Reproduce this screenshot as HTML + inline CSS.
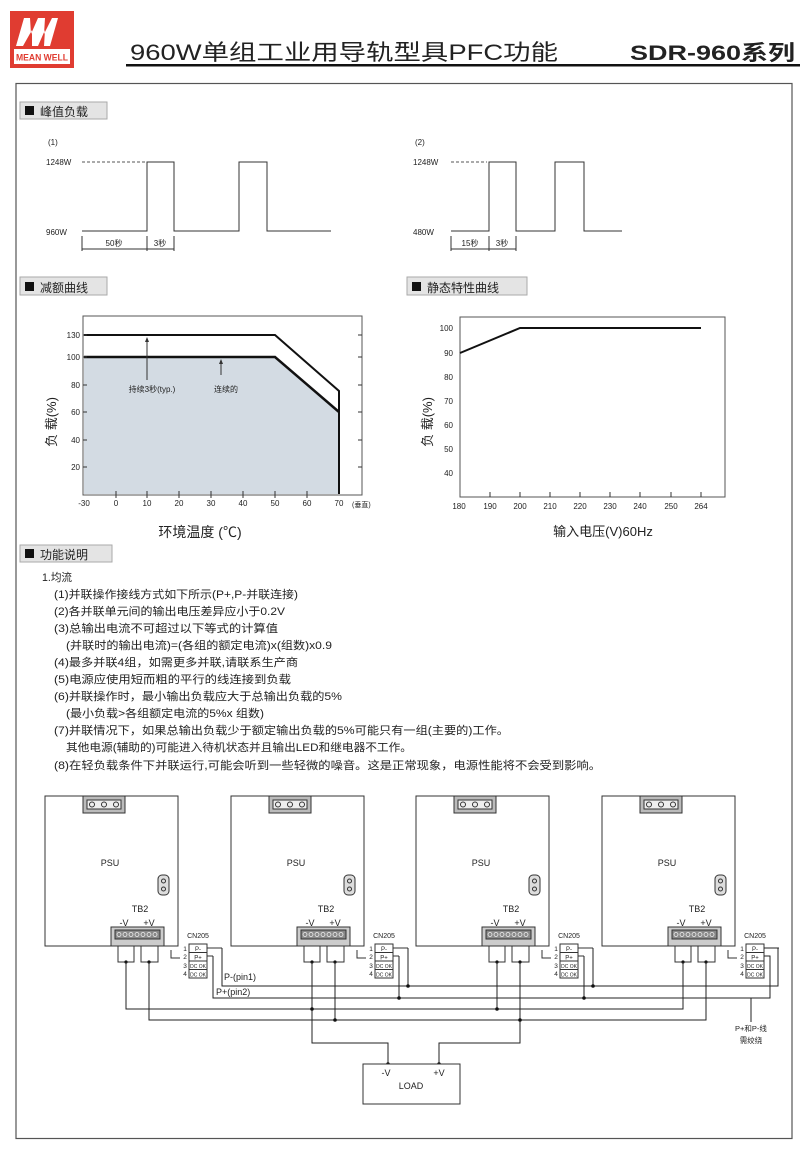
<!DOCTYPE html>
<html><head><meta charset="utf-8"><style>
html,body{margin:0;padding:0;background:#fff;}
svg{display:block;}
text{font-family:"Liberation Sans","Noto Sans CJK SC",sans-serif;fill:#222;}
</style></head><body>
<svg width="800" height="1156" viewBox="0 0 800 1156" xmlns="http://www.w3.org/2000/svg">
<!-- header -->
<rect x="10" y="11" width="64" height="57" fill="#e03c31"/>
<path d="M16,46 L24,18 L30,18 L31,34 L38,18 L45,18 L44,34 L52,18 L58,18 L50,46 L44,46 L45,30 L38,46 L32,46 L32,30 L23,46 Z" fill="#fff"/>
<rect x="14" y="49" width="56" height="15" fill="#fff"/>
<text x="42" y="60.5" font-size="9.5" font-weight="bold" text-anchor="middle" textLength="52" lengthAdjust="spacingAndGlyphs" style="fill:#e03c31">MEAN WELL</text>
<text x="130" y="60" font-size="22" textLength="428" lengthAdjust="spacingAndGlyphs">960W单组工业用导轨型具PFC功能</text>
<text x="630" y="60" font-size="21" font-weight="bold" textLength="165" lengthAdjust="spacingAndGlyphs">SDR-960系列</text>
<rect x="126" y="64" width="674" height="2.5" fill="#111"/>
<!-- frame -->
<rect x="16" y="83.5" width="776" height="1055" fill="none" stroke="#555" stroke-width="1.2"/>

<!-- section headers -->
<g font-size="12">
<rect x="20" y="102" width="87" height="17" fill="#e4e4e4" stroke="#aaa"/><rect x="25" y="106" width="9" height="9" fill="#111"/><text x="40" y="116" font-size="12">峰值负载</text>
<rect x="20" y="277" width="87" height="18" fill="#e4e4e4" stroke="#aaa"/><rect x="25" y="282" width="9" height="9" fill="#111"/><text x="40" y="292">减额曲线</text>
<rect x="407" y="277" width="120" height="18" fill="#e4e4e4" stroke="#aaa"/><rect x="412" y="282" width="9" height="9" fill="#111"/><text x="427" y="292">静态特性曲线</text>
<rect x="20" y="545" width="92" height="17" fill="#e4e4e4" stroke="#aaa"/><rect x="25" y="549" width="9" height="9" fill="#111"/><text x="40" y="559">功能说明</text>
</g>

<!-- peak load charts -->
<g font-size="8" stroke-width="1">
<text x="48" y="145">(1)</text>
<text x="46" y="165">1248W</text>
<text x="46" y="235">960W</text>
<line x1="82" y1="162" x2="145" y2="162" stroke="#555" stroke-dasharray="3,2"/>
<polyline points="82,231 147,231 147,162 174,162 174,231 239,231 239,162 267,162 267,231 331,231" fill="none" stroke="#333"/>
<line x1="82" y1="236" x2="82" y2="251" stroke="#333"/><line x1="147" y1="236" x2="147" y2="251" stroke="#333"/><line x1="174" y1="236" x2="174" y2="251" stroke="#333"/>
<line x1="82" y1="249" x2="174" y2="249" stroke="#333"/>
<text x="114" y="246" text-anchor="middle">50秒</text><text x="160" y="246" text-anchor="middle">3秒</text>

<text x="415" y="145">(2)</text>
<text x="413" y="165">1248W</text>
<text x="413" y="235">480W</text>
<line x1="451" y1="162" x2="487" y2="162" stroke="#555" stroke-dasharray="3,2"/>
<polyline points="451,231 489,231 489,162 516,162 516,231 555,231 555,162 584,162 584,231 622,231" fill="none" stroke="#333"/>
<line x1="451" y1="236" x2="451" y2="251" stroke="#333"/><line x1="489" y1="236" x2="489" y2="251" stroke="#333"/><line x1="516" y1="236" x2="516" y2="251" stroke="#333"/>
<line x1="451" y1="249" x2="516" y2="249" stroke="#333"/>
<text x="470" y="246" text-anchor="middle">15秒</text><text x="502" y="246" text-anchor="middle">3秒</text>
</g>

<!-- derating chart -->
<g font-size="8">
<rect x="83" y="316" width="279" height="179" fill="#fff" stroke="#555"/>
<polygon points="84,357 275,357 339,412 339,494 84,494" fill="#d3dbe3"/>
<polyline points="84,357 275,357 339,412" fill="none" stroke="#111" stroke-width="2.5"/>
<polyline points="84,335 275,335 339,391 339,494" fill="none" stroke="#111" stroke-width="2"/>
<line x1="147" y1="380" x2="147" y2="338" stroke="#333"/><path d="M145,342 L147,337 L149,342Z" fill="#333"/>
<line x1="221" y1="375" x2="221" y2="360" stroke="#333"/><path d="M219,364 L221,359 L223,364Z" fill="#333"/>
<text x="152" y="392" text-anchor="middle">持续3秒(typ.)</text>
<text x="226" y="392" text-anchor="middle">连续的</text>
<g text-anchor="end">
<text x="80" y="338">130</text><text x="80" y="360">100</text><text x="80" y="388">80</text><text x="80" y="415">60</text><text x="80" y="443">40</text><text x="80" y="470">20</text>
</g>
<g stroke="#333">
<line x1="83" y1="335" x2="87" y2="335"/><line x1="83" y1="357" x2="87" y2="357"/><line x1="83" y1="385" x2="87" y2="385"/><line x1="83" y1="412" x2="87" y2="412"/><line x1="83" y1="440" x2="87" y2="440"/><line x1="83" y1="467" x2="87" y2="467"/>
<line x1="358" y1="335" x2="362" y2="335"/><line x1="358" y1="357" x2="362" y2="357"/><line x1="358" y1="385" x2="362" y2="385"/><line x1="358" y1="412" x2="362" y2="412"/><line x1="358" y1="440" x2="362" y2="440"/><line x1="358" y1="467" x2="362" y2="467"/>
<line x1="116" y1="491" x2="116" y2="498"/><line x1="147" y1="491" x2="147" y2="498"/><line x1="179" y1="491" x2="179" y2="498"/><line x1="211" y1="491" x2="211" y2="498"/><line x1="243" y1="491" x2="243" y2="498"/><line x1="275" y1="491" x2="275" y2="498"/><line x1="307" y1="491" x2="307" y2="498"/>
</g>
<g text-anchor="middle">
<text x="84" y="506">-30</text><text x="116" y="506">0</text><text x="147" y="506">10</text><text x="179" y="506">20</text><text x="211" y="506">30</text><text x="243" y="506">40</text><text x="275" y="506">50</text><text x="307" y="506">60</text><text x="339" y="506">70</text>
</g>
<text x="352" y="507" font-size="7">(垂直)</text>
<text transform="translate(56,422) rotate(-90)" font-size="13" text-anchor="middle">负 载(%)</text>
<text x="200" y="537" font-size="14" text-anchor="middle">环境温度 (℃)</text>
</g>

<!-- static chart -->
<g font-size="8">
<rect x="460" y="317" width="265" height="180" fill="#fff" stroke="#555"/>
<polyline points="460,353 520,328 701,328" fill="none" stroke="#111" stroke-width="2"/>
<g text-anchor="end">
<text x="453" y="331">100</text><text x="453" y="356">90</text><text x="453" y="380">80</text><text x="453" y="404">70</text><text x="453" y="428">60</text><text x="453" y="452">50</text><text x="453" y="476">40</text>
</g>
<g stroke="#333">
<line x1="490" y1="492" x2="490" y2="497"/><line x1="520" y1="492" x2="520" y2="497"/><line x1="550" y1="492" x2="550" y2="497"/><line x1="580" y1="492" x2="580" y2="497"/><line x1="610" y1="492" x2="610" y2="497"/><line x1="640" y1="492" x2="640" y2="497"/><line x1="671" y1="492" x2="671" y2="497"/><line x1="701" y1="492" x2="701" y2="497"/>
</g>
<g text-anchor="middle">
<text x="459" y="509">180</text><text x="490" y="509">190</text><text x="520" y="509">200</text><text x="550" y="509">210</text><text x="580" y="509">220</text><text x="610" y="509">230</text><text x="640" y="509">240</text><text x="671" y="509">250</text><text x="701" y="509">264</text>
</g>
<text transform="translate(432,422) rotate(-90)" font-size="13" text-anchor="middle">负 载(%)</text>
<text x="603" y="536" font-size="13" text-anchor="middle">输入电压(V)60Hz</text>
</g>

<!-- description text -->
<g font-size="11">
<text x="42" y="581" textLength="30" lengthAdjust="spacingAndGlyphs">1.均流</text>
<text x="54" y="598" textLength="244" lengthAdjust="spacingAndGlyphs">(1)并联操作接线方式如下所示(P+,P-并联连接)</text>
<text x="54" y="615" textLength="231" lengthAdjust="spacingAndGlyphs">(2)各并联单元间的输出电压差异应小于0.2V</text>
<text x="54" y="632" textLength="224" lengthAdjust="spacingAndGlyphs">(3)总输出电流不可超过以下等式的计算值</text>
<text x="66" y="649" textLength="266" lengthAdjust="spacingAndGlyphs">(并联时的输出电流)=(各组的额定电流)x(组数)x0.9</text>
<text x="54" y="666" textLength="244" lengthAdjust="spacingAndGlyphs">(4)最多并联4组，如需更多并联,请联系生产商</text>
<text x="54" y="683" textLength="237" lengthAdjust="spacingAndGlyphs">(5)电源应使用短而粗的平行的线连接到负载</text>
<text x="54" y="700" textLength="288" lengthAdjust="spacingAndGlyphs">(6)并联操作时，最小输出负载应大于总输出负载的5%</text>
<text x="66" y="717" textLength="198" lengthAdjust="spacingAndGlyphs">(最小负载&gt;各组额定电流的5%x 组数)</text>
<text x="54" y="734" textLength="455" lengthAdjust="spacingAndGlyphs">(7)并联情况下，如果总输出负载少于额定输出负载的5%可能只有一组(主要的)工作。</text>
<text x="66" y="751" textLength="346" lengthAdjust="spacingAndGlyphs">其他电源(辅助的)可能进入待机状态并且输出LED和继电器不工作。</text>
<text x="54" y="769" textLength="547" lengthAdjust="spacingAndGlyphs">(8)在轻负载条件下并联运行,可能会听到一些轻微的噪音。这是正常现象，电源性能将不会受到影响。</text>
</g>

<!-- PSU template -->
<defs>
<g id="psu">
<rect x="45" y="796" width="133" height="150" fill="#fff" stroke="#333"/>
<rect x="83" y="796" width="42" height="17" fill="#bbb" stroke="#333"/>
<rect x="87" y="800" width="34" height="9" fill="#eee" stroke="#333"/>
<circle cx="92" cy="804.5" r="2.5" fill="none" stroke="#333"/><circle cx="104" cy="804.5" r="2.5" fill="none" stroke="#333"/><circle cx="116" cy="804.5" r="2.5" fill="none" stroke="#333"/>
<text x="110" y="866" font-size="9" text-anchor="middle">PSU</text>
<rect x="158" y="875" width="11" height="20" rx="4" fill="#ddd" stroke="#333"/>
<circle cx="163.5" cy="881" r="2" fill="none" stroke="#333"/><circle cx="163.5" cy="889" r="2" fill="none" stroke="#333"/>
<text x="140" y="912" font-size="9" text-anchor="middle">TB2</text>
<text x="124" y="926" font-size="9" text-anchor="middle">-V</text>
<text x="149" y="926" font-size="9" text-anchor="middle">+V</text>
<rect x="111" y="927" width="53" height="19" fill="#ccc" stroke="#333"/>
<rect x="115" y="930" width="45" height="9" fill="#888" stroke="#333"/>
<g fill="none" stroke="#eee" stroke-width="0.8"><circle cx="119" cy="934.5" r="2"/><circle cx="125" cy="934.5" r="2"/><circle cx="131" cy="934.5" r="2"/><circle cx="137" cy="934.5" r="2"/><circle cx="143" cy="934.5" r="2"/><circle cx="149" cy="934.5" r="2"/><circle cx="155" cy="934.5" r="2"/></g>
<path d="M118,946 V962 H134 V946 M141,946 V962 H158 V946" fill="none" stroke="#333"/>
<circle cx="126" cy="962" r="1.6" fill="#111"/><circle cx="149" cy="962" r="1.6" fill="#111"/>
<path d="M171,950 V958 H180" fill="none" stroke="#333"/>
<text x="198" y="938" font-size="7" text-anchor="middle">CN205</text>
<g font-size="6.5"><text x="185" y="951" text-anchor="middle">1</text><text x="185" y="959" text-anchor="middle">2</text><text x="185" y="968" text-anchor="middle">3</text><text x="185" y="976" text-anchor="middle">4</text></g>
<rect x="189" y="944" width="18" height="34" fill="#fff" stroke="#333"/>
<line x1="189" y1="952.5" x2="207" y2="952.5" stroke="#333"/><line x1="189" y1="961" x2="207" y2="961" stroke="#333"/><line x1="189" y1="969.5" x2="207" y2="969.5" stroke="#333"/>
<text x="198" y="951" font-size="6" text-anchor="middle">P-</text><text x="198" y="959.5" font-size="6" text-anchor="middle">P+</text>
<text x="198" y="968" font-size="5" text-anchor="middle">DC OK</text><text x="198" y="976.5" font-size="5" text-anchor="middle">DC OK</text>
<path d="M207,948 H222 M207,956 H213" fill="none" stroke="#333"/>
</g>
</defs>
<use href="#psu"/>
<use href="#psu" transform="translate(186,0)"/>
<use href="#psu" transform="translate(371,0)"/>
<use href="#psu" transform="translate(557,0)"/>

<!-- wiring -->
<g fill="none" stroke="#222" stroke-width="1">
<path d="M222,948 V986 H778 V948 H764"/>
<path d="M213,956 V998 H770 V956 H764"/>
<path d="M126,962 V1009 H683 V962"/>
<path d="M149,962 V1020 H706 V962"/>
<path d="M408,948 V986 M399,956 V998 M593,948 V986 M584,956 V998"/>
<path d="M312,962 V1043 H388 V1064 M335,962 V1020"/>
<path d="M497,962 V1009 M520,962 V1043 H439 V1064"/>
<path d="M751,998 V1022"/>
</g>
<g fill="#111">
<circle cx="408" cy="986" r="1.8"/><circle cx="399" cy="998" r="1.8"/><circle cx="593" cy="986" r="1.8"/><circle cx="584" cy="998" r="1.8"/>
<circle cx="312" cy="1009" r="1.8"/><circle cx="335" cy="1020" r="1.8"/><circle cx="497" cy="1009" r="1.8"/><circle cx="520" cy="1020" r="1.8"/>
<circle cx="388" cy="1064" r="1.8"/><circle cx="439" cy="1064" r="1.8"/>
</g>
<text x="224" y="980" font-size="9">P-(pin1)</text>
<text x="216" y="995" font-size="9">P+(pin2)</text>
<text x="751" y="1031" font-size="7.5" text-anchor="middle">P+和P-线</text>
<text x="751" y="1043" font-size="7.5" text-anchor="middle">需绞绕</text>
<rect x="363" y="1064" width="97" height="40" fill="#fff" stroke="#333"/>
<text x="386" y="1076" font-size="9" text-anchor="middle">-V</text>
<text x="439" y="1076" font-size="9" text-anchor="middle">+V</text>
<text x="411" y="1089" font-size="9" text-anchor="middle">LOAD</text>
</svg>
</body></html>
